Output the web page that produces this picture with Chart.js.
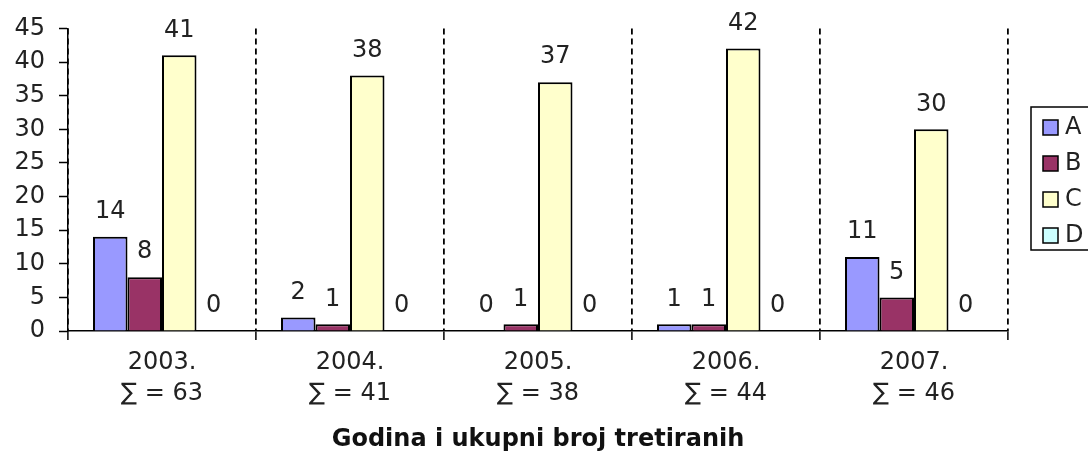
<!DOCTYPE html>
<html>
<head>
<meta charset="utf-8">
<title>Godina i ukupni broj tretiranih</title>
<script src="https://cdn.jsdelivr.net/npm/chart.js@4/dist/chart.umd.min.js"></script>
<style>
  html, body { margin: 0; padding: 0; background: #fff; }
  #wrap { width: 1088px; height: 452px; }
</style>
</head>
<body>
<div id="wrap"><canvas id="grafico" width="1088" height="452"></canvas></div>
<script>
// Podaci (godine, ukupno i vrijednosti po skupinama)
const godine = ['2003.', '2004.', '2005.', '2006.', '2007.'];
const ukupno = [63, 41, 38, 44, 46];
const nazivi = ['A', 'B', 'C', 'D'];
const serijaA = [14, 2, 0, 1, 11];
const serijaB = [8, 1, 1, 1, 5];
const serijaC = [41, 38, 37, 42, 30];
const serijaD = [0, 0, 0, 0, 0];
const boje = ['#9999FF', '#993366', '#FFFFCC', '#CCFFFF'];
const yTicks = [0, 5, 10, 15, 20, 25, 30, 35, 40, 45];

const FONT = 'DejaVu Sans';
const VEL = 24; // velicina slova

// Oznake na x osi u dva retka: godina i suma
const oznake = godine.map((g, i) => [g, '\u2211 = ' + ukupno[i]]);

const serije = [serijaA, serijaB, serijaC, serijaD];

// Vrijednosti iznad stupaca
const vrijednostiPlugin = {
  id: 'vrijednosti',
  afterDatasetsDraw(chart) {
    const ctx = chart.ctx;
    ctx.save();
    ctx.font = VEL + 'px "' + FONT + '"';
    ctx.fillStyle = '#222';
    ctx.textAlign = 'center';
    ctx.textBaseline = 'middle';
    chart.data.datasets.forEach((ds, i) => {
      const meta = chart.getDatasetMeta(i);
      meta.data.forEach((bar, j) => {
        ctx.fillText(String(ds.data[j]), bar.x, bar.y - 25);
      });
    });
    ctx.restore();
  }
};

// Legenda s okvirom desno
const legendaPlugin = {
  id: 'legenda',
  afterDraw(chart) {
    const ctx = chart.ctx;
    const x0 = 1031, y0 = 107, y1 = 250;
    ctx.save();
    ctx.strokeStyle = '#000';
    ctx.lineWidth = 1.5;
    ctx.strokeRect(x0, y0, 80, y1 - y0);
    ctx.font = VEL + 'px "' + FONT + '"';
    ctx.textBaseline = 'middle';
    ctx.textAlign = 'left';
    chart.data.datasets.forEach((ds, i) => {
      const cy = 127 + i * 36;
      ctx.fillStyle = ds.backgroundColor;
      ctx.fillRect(1043, cy - 7, 15, 15);
      ctx.lineWidth = 1.5;
      ctx.strokeStyle = '#000';
      ctx.strokeRect(1043, cy - 7, 15, 15);
      ctx.fillStyle = '#222';
      ctx.fillText(ds.label, 1065, cy + 1);
    });
    ctx.restore();
  }
};

const ctx = document.getElementById('grafico').getContext('2d');

const grafico = new Chart(ctx, {
  type: 'bar',
  data: {
    labels: oznake,
    datasets: serije.map((s, i) => ({
      label: nazivi[i],
      data: s,
      backgroundColor: boje[i],
      borderColor: '#000',
      borderWidth: 2,
      borderSkipped: 'bottom',
      categoryPercentage: 0.734,
      barPercentage: 1
    }))
  },
  options: {
    responsive: false,
    animation: false,
    layout: { padding: { top: 25, right: 80, left: 0, bottom: 0 } },
    plugins: {
      legend: { display: false },
      tooltip: { enabled: false }
    },
    scales: {
      x: {
        afterFit(scale) { scale.height = 121; },
        grid: {
          color: '#000',
          lineWidth: 1.8,
          offset: true,
          drawTicks: true,
          tickLength: 9,
          tickColor: '#000',
          tickWidth: 1.5
        },
        border: { display: true, color: '#000', width: 1.5, dash: [6, 4] },
        ticks: {
          color: '#222',
          font: { family: FONT, size: VEL, lineHeight: 1.29 },
          padding: 7,
          maxRotation: 0,
          autoSkip: false
        },
        title: {
          display: true,
          text: 'Godina i ukupni broj tretiranih',
          color: '#111',
          font: { family: FONT, size: VEL, weight: 'bold', lineHeight: 1 },
          padding: { top: 0, bottom: 0 }
        }
      },
      y: {
        min: 0,
        max: 45,
        afterFit(scale) { scale.width = 68; },
        afterBuildTicks(scale) { scale.ticks = yTicks.map(v => ({ value: v })); },
        grid: {
          drawOnChartArea: false,
          drawTicks: true,
          tickLength: 9,
          tickColor: '#000',
          tickWidth: 1.5
        },
        border: { display: true, color: '#000', width: 1.5 },
        ticks: {
          color: '#222',
          font: { family: FONT, size: VEL },
          padding: 14
        }
      }
    }
  },
  plugins: [vrijednostiPlugin, legendaPlugin]
});
</script>
</body>
</html>
